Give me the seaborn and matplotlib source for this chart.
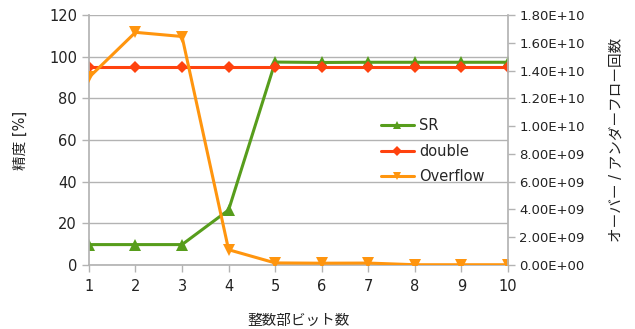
import matplotlib
matplotlib.use("Agg")
import matplotlib.pyplot as plt
import matplotlib.ticker as mticker
import seaborn as sns
import pandas as pd

# Data
bits = [1, 2, 3, 4, 5, 6, 7, 8, 9, 10]
sr_accuracy = [9.8, 9.8, 9.8, 26.4, 97.4, 97.2, 97.3, 97.3, 97.3, 97.3]
double_accuracy = [95.0, 95.0, 95.0, 95.0, 95.0, 95.0, 95.0, 95.0, 95.0, 95.0]
overflow_count = [1.35e10, 1.675e10, 1.645e10, 1.1e9, 1.5e8, 1.3e8, 1.4e8, 2e7, 2e7, 2e7]

left_ticks = [0, 20, 40, 60, 80, 100, 120]
right_ticks = [0, 2e9, 4e9, 6e9, 8e9, 1e10, 1.2e10, 1.4e10, 1.6e10, 1.8e10]

sns.set_theme(style="white")
plt.rcParams["font.family"] = ["DejaVu Sans", "Noto Sans CJK JP"]

c_sr = "#579d1c"
c_double = "#ff420e"
c_over = "#ff950e"
grid_c = "#b3b3b3"
text_c = "#222222"

df = pd.DataFrame({"bits": bits, "SR": sr_accuracy, "double": double_accuracy,
                   "Overflow": overflow_count})

fig = plt.figure(figsize=(6.35, 3.29), dpi=100)
ax = fig.add_axes([0.140, 0.1945, 0.660, 0.760])
ax2 = ax.twinx()

sns.lineplot(data=df, x="bits", y="SR", ax=ax, color=c_sr, marker="^",
             markersize=8, linewidth=2.2, markeredgewidth=0, label="SR", legend=False)
sns.lineplot(data=df, x="bits", y="double", ax=ax, color=c_double, marker="D",
             markersize=6.5, linewidth=2.2, markeredgewidth=0, label="double", legend=False)
sns.lineplot(data=df, x="bits", y="Overflow", ax=ax2, color=c_over, marker="v",
             markersize=8, linewidth=2.2, markeredgewidth=0, label="Overflow", legend=False)

ax.set_xlim(1, 10)
ax.set_ylim(0, 120)
ax2.set_ylim(0, 1.8e10)
ax.set_xticks(bits)
ax.set_yticks(left_ticks)
ax2.set_yticks(right_ticks)
ax2.yaxis.set_major_formatter(mticker.FuncFormatter(lambda v, p: "{:.2E}".format(v)))

ax.yaxis.grid(True, color=grid_c, linewidth=1)
ax.xaxis.grid(False)
ax2.grid(False)

for a in (ax, ax2):
    for s in a.spines.values():
        s.set_visible(False)
ax.spines["left"].set_visible(True)
ax.spines["left"].set_color(grid_c)
ax.spines["bottom"].set_visible(True)
ax.spines["bottom"].set_color(grid_c)
ax2.spines["right"].set_visible(True)
ax2.spines["right"].set_color(grid_c)

tick_kw = dict(direction="out", length=5, width=1, color=grid_c, labelcolor=text_c)
ax.tick_params(axis="y", left=True, labelsize=10.5, **tick_kw)
ax.tick_params(axis="x", bottom=True, pad=5, labelsize=10.5, **tick_kw)
ax2.tick_params(axis="y", right=True, labelsize=9.5, pad=3, **tick_kw)

ax.set_xlabel("整数部ビット数", fontsize=10.5, color=text_c, labelpad=14)
ax.set_ylabel("精度 [%]", fontsize=10.5, color=text_c, labelpad=15)
ax2.set_ylabel("オーバー / アンダーフロー回数", fontsize=10.5, color=text_c,
               rotation=90, labelpad=17)

ax2.set_zorder(ax.get_zorder() + 1)
ax2.patch.set_visible(False)

h1, l1 = ax.get_legend_handles_labels()
h2, l2 = ax2.get_legend_handles_labels()
ax2.legend(h1 + h2, l1 + l2, loc="upper left", bbox_to_anchor=(0.588, 0.662),
           bbox_transform=fig.transFigure, frameon=False, fontsize=10.5,
           handlelength=2.3, handletextpad=0.35, labelspacing=0.7, borderpad=0,
           markerscale=0.8)

fig.savefig("out.png", dpi=100)
